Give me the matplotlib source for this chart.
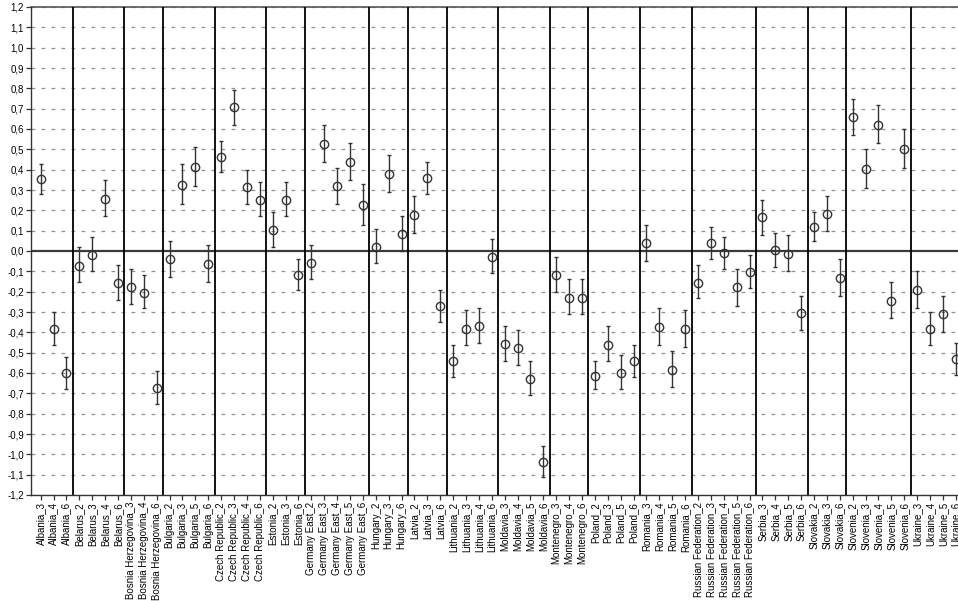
import matplotlib
matplotlib.use("Agg")
import matplotlib.pyplot as plt
import numpy as np

countries = ["Albania", "Belarus", "Bosnia Herzegovina", "Bulgaria", "Czech Republic",
             "Estonia", "Germany East", "Hungary", "Latvia", "Lithuania", "Moldavia",
             "Montenegro", "Poland", "Romania", "Russian Federation", "Serbia",
             "Slovakia", "Slovenia", "Ukraine"]
waves = [[3, 4, 6], [2, 3, 4, 6], [3, 4, 6], [2, 3, 5, 6], [2, 3, 4, 6],
         [2, 3, 6], [2, 3, 4, 5, 6], [2, 3, 6], [2, 3, 6], [2, 3, 4, 6],
         [3, 4, 5, 6], [3, 4, 6], [2, 3, 5, 6], [3, 4, 5, 6], [2, 3, 4, 5, 6],
         [3, 4, 5, 6], [2, 3, 6], [2, 3, 4, 5, 6], [3, 4, 5, 6]]

means = [0.354, -0.384, -0.600,
         -0.072, -0.021, 0.258, -0.157,
         -0.179, -0.205, -0.672,
         -0.039, 0.327, 0.413, -0.064,
         0.462, 0.707, 0.313, 0.249,
         0.102, 0.253, -0.118,
         -0.059, 0.528, 0.322, 0.438, 0.228,
         0.020, 0.377, 0.086,
         0.179, 0.359, -0.272,
         -0.541, -0.382, -0.369, -0.029,
         -0.456, -0.477, -0.628, -1.038,
         -0.118, -0.229, -0.229,
         -0.615, -0.462, -0.600, -0.543,
         0.038, -0.374, -0.585, -0.385,
         -0.156, 0.039, -0.010, -0.179, -0.105,
         0.166, 0.003, -0.013, -0.305,
         0.117, 0.184, -0.133,
         0.659, 0.405, 0.622, -0.244, 0.504,
         -0.193, -0.382, -0.311, -0.533]

ci_high = [0.43, -0.30, -0.52,
           0.02, 0.07, 0.35, -0.07,
           -0.09, -0.12, -0.59,
           0.05, 0.43, 0.51, 0.03,
           0.54, 0.79, 0.40, 0.34,
           0.19, 0.34, -0.04,
           0.03, 0.62, 0.41, 0.53, 0.33,
           0.11, 0.47, 0.17,
           0.27, 0.44, -0.19,
           -0.46, -0.29, -0.28, 0.06,
           -0.37, -0.39, -0.54, -0.96,
           -0.03, -0.14, -0.14,
           -0.54, -0.37, -0.51, -0.46,
           0.13, -0.28, -0.49, -0.29,
           -0.07, 0.12, 0.07, -0.09, -0.02,
           0.25, 0.09, 0.08, -0.22,
           0.19, 0.27, -0.04,
           0.75, 0.50, 0.72, -0.15, 0.60,
           -0.10, -0.30, -0.22, -0.45]

ci_low = [0.28, -0.46, -0.68,
          -0.15, -0.10, 0.17, -0.24,
          -0.26, -0.28, -0.75,
          -0.13, 0.23, 0.32, -0.15,
          0.39, 0.62, 0.23, 0.17,
          0.02, 0.17, -0.19,
          -0.14, 0.44, 0.23, 0.35, 0.13,
          -0.06, 0.29, 0.00,
          0.09, 0.28, -0.35,
          -0.62, -0.46, -0.45, -0.11,
          -0.54, -0.56, -0.71, -1.11,
          -0.20, -0.31, -0.31,
          -0.68, -0.54, -0.68, -0.62,
          -0.05, -0.46, -0.67, -0.47,
          -0.23, -0.04, -0.09, -0.27, -0.18,
          0.08, -0.08, -0.10, -0.39,
          0.05, 0.10, -0.22,
          0.57, 0.31, 0.53, -0.33, 0.41,
          -0.28, -0.46, -0.40, -0.61]

labels = [f"{c}_{w}" for c, ws in zip(countries, waves) for w in ws]
group_sizes = [len(ws) for ws in waves]

plt.rcParams['font.family'] = ['Liberation Sans', 'DejaVu Sans']

fig = plt.figure(figsize=(9.58, 6.01), dpi=100)
ax = fig.add_axes([31/958, 106/601, 934.5/958, 488/601])

x = np.arange(len(labels))
m = np.array(means)
yerr = np.vstack([m - np.array(ci_low), np.array(ci_high) - m])

ax.set_xlim(-0.75, len(labels) - 0.25)
ax.set_ylim(-1.2, 1.2)

yt = np.round(np.arange(-1.2, 1.21, 0.1), 1)
for v in yt:
    if abs(v) < 1e-9:
        continue
    ax.axhline(v, color='#909090', lw=0.9, ls=(0, (3, 5)), zorder=1)
ax.axhline(0, color='#3a3a3a', lw=1.6, zorder=2)
ax.axhline(1.2, color='#555555', lw=1.2, zorder=2, clip_on=False)

bounds = np.cumsum(group_sizes)[:-1] - 0.5
for b in bounds:
    ax.axvline(b, color='black', lw=1.3, zorder=2)

ax.errorbar(x, m, yerr=yerr, fmt='o', mfc='none', mec='#333333', mew=1.0, ms=6,
            ecolor='#333333', elinewidth=1.0, capsize=1.5, capthick=1.0, zorder=3)

ax.set_yticks(yt)
ax.set_yticklabels([f"{v:.1f}".replace('.', ',').replace('-0,0', '0,0') for v in yt], fontsize=7)
ax.set_xticks(x)
ax.set_xticklabels(labels, rotation=90, fontsize=7)
ax.tick_params(axis='both', direction='out', length=3.5, width=0.9, color='#333333', pad=1.5)

for s in ['top', 'right']:
    ax.spines[s].set_visible(False)
ax.spines['left'].set_color('#333333')
ax.spines['bottom'].set_color('#333333')
ax.spines['left'].set_linewidth(1.0)
ax.spines['bottom'].set_linewidth(1.0)

fig.savefig("out.png", dpi=100)
